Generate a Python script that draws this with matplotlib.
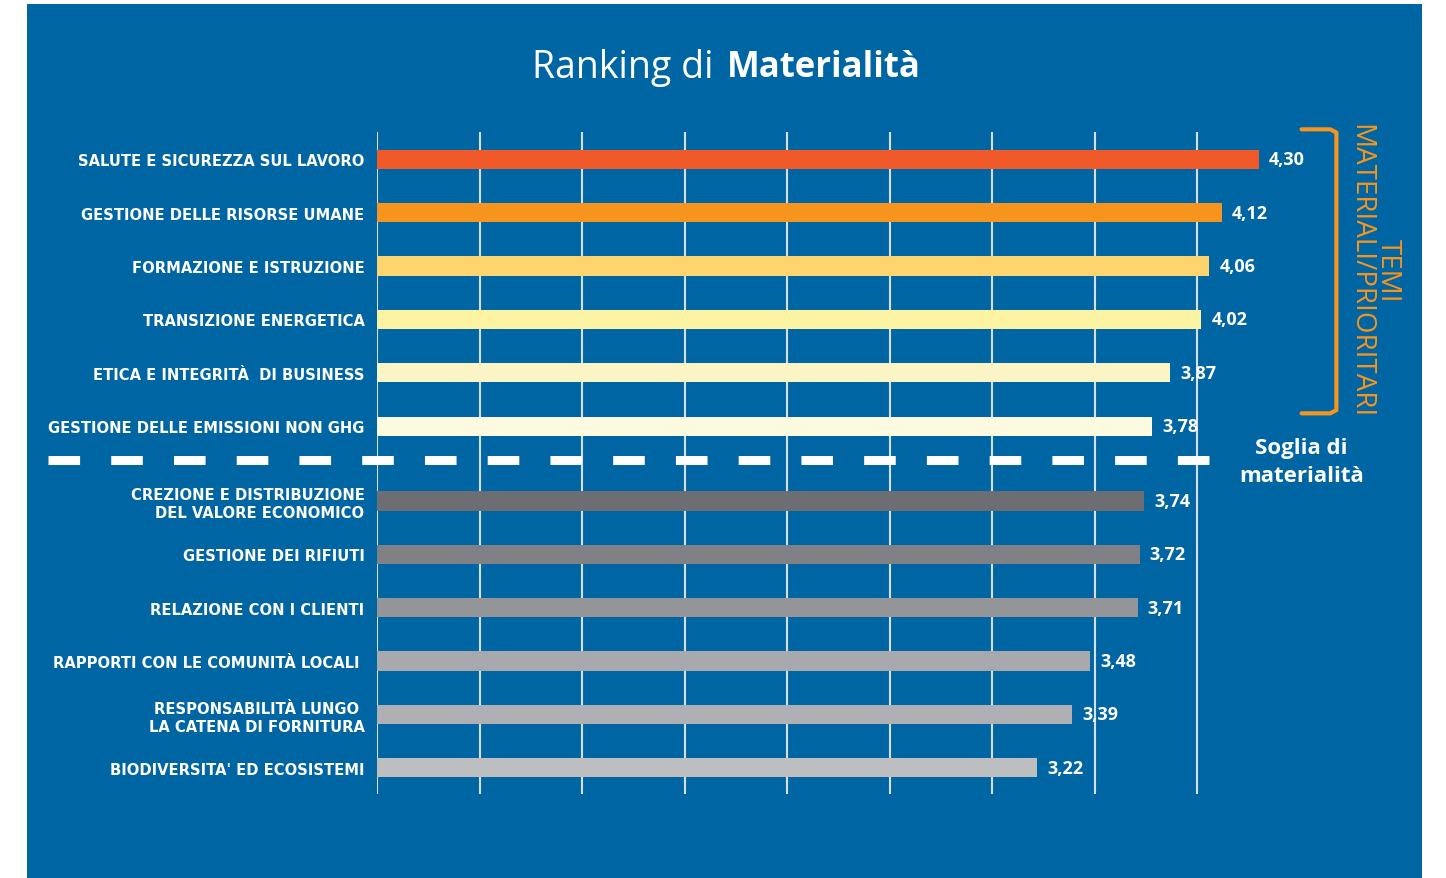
import matplotlib
matplotlib.use("Agg")
import matplotlib.pyplot as plt
from matplotlib.patches import Rectangle
from matplotlib.lines import Line2D

# data
topics_material = ["SALUTE E SICUREZZA SUL LAVORO", "GESTIONE DELLE RISORSE UMANE",
                   "FORMAZIONE E ISTRUZIONE", "TRANSIZIONE ENERGETICA",
                   "ETICA E INTEGRITÀ  DI BUSINESS", "GESTIONE DELLE EMISSIONI NON GHG"]
scores_material = [4.30, 4.12, 4.06, 4.02, 3.87, 3.78]
colors_material = ["#F05A28", "#F7941D", "#FDD46E", "#FCF4A3", "#FBF5C6", "#FCFADF"]

topics_other = ["CREZIONE E DISTRIBUZIONE\nDEL VALORE ECONOMICO", "GESTIONE DEI RIFIUTI",
                "RELAZIONE CON I CLIENTI", "RAPPORTI CON LE COMUNITÀ LOCALI ",
                "RESPONSABILITÀ LUNGO \nLA CATENA DI FORNITURA", "BIODIVERSITA' ED ECOSISTEMI"]
scores_other = [3.74, 3.72, 3.71, 3.48, 3.39, 3.22]
colors_other = ["#6D6E71", "#808184", "#939598", "#A7A9AC", "#AEB0B3", "#BCBEC0"]

BLUE = "#0065A3"
ORANGE = "#F7941D"
W, H = 1446, 879

fig = plt.figure(figsize=(W / 100, H / 100), dpi=100, facecolor="white")
fig.patches.append(Rectangle((27 / W, 0), (1422 - 27) / W, (879 - 5) / H,
                             transform=fig.transFigure, facecolor=BLUE, edgecolor="none", zorder=-10))

ax = fig.add_axes([377 / W, 1 - 795 / H, (1402 - 377) / W, (795 - 133) / H])
ax.set_facecolor("none")

gap = 1.4
pos_material = list(range(len(scores_material)))
pos_other = [5 + gap + i for i in range(len(scores_other))]
positions = pos_material + pos_other
scores = scores_material + scores_other
colors = colors_material + colors_other
labels = topics_material + topics_other

ax.barh(positions, scores, height=0.36, color=colors, zorder=3)
for p, s in zip(positions, scores):
    ax.text(s + 0.05, p, f"{s:.2f}".replace(".", ","), va="center", ha="left",
            color="white", fontsize=13, fontweight="bold", family="Open Sans", zorder=4)

ax.set_xlim(0, 5)
ax.set_ylim(11.89, -0.51)
ax.set_xticks([i * 0.5 for i in range(9)])
ax.grid(axis="x", color="#d6e0ea", lw=1.5, zorder=1)
ax.tick_params(axis="x", length=0, labelbottom=False)
ax.tick_params(axis="y", length=0, pad=9)
ax.set_yticks(positions)
ax.set_yticklabels(labels, color="white", fontsize=10.6, fontweight="bold",
                   family="DejaVu Sans", linespacing=1.25)
for spine in ax.spines.values():
    spine.set_visible(False)

# threshold line
ax.add_line(Line2D([-1.605, 4.10], [5.64, 5.64], color="white", lw=6.5,
                   dashes=(3.5, 3.45), dash_capstyle="butt", clip_on=False, zorder=5))
ax.text(4.51, 5.66, "Soglia di\nmaterialità", ha="center", va="center", color="white",
        fontsize=16, fontweight="bold", family="Open Sans", linespacing=1.4)

# bracket
ax.add_line(Line2D([4.51, 4.65, 4.68, 4.68, 4.65, 4.51],
                   [-0.56, -0.56, -0.50, 4.70, 4.76, 4.76], color=ORANGE, lw=3,
                   solid_joinstyle="round", solid_capstyle="round", clip_on=False))
fig.text(1374 / W, 1 - 271 / H, "TEMI\nMATERIALI/PRIORITARI", rotation=270, ha="center",
         va="center", color=ORANGE, fontsize=20, family="Open Sans", linespacing=0.95)

# title
fig.text(714 / W, 1 - 68 / H, "Ranking di", ha="right", va="center", color="white",
         fontsize=27, family="Open Sans")
fig.text(727 / W, 1 - 68 / H, "Materialità", ha="left", va="center", color="white",
         fontsize=25, fontweight="bold", family="Open Sans")

fig.savefig("out.png", dpi=100, facecolor="white")
